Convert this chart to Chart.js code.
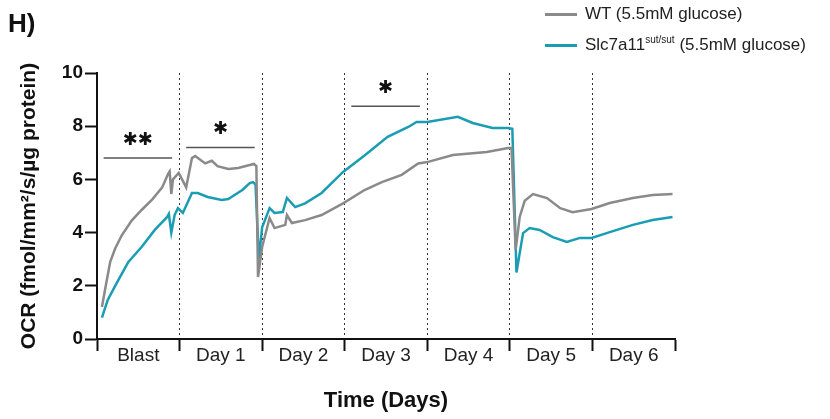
<!DOCTYPE html>
<html>
<head>
<meta charset="utf-8">
<script src="https://cdn.jsdelivr.net/npm/chart.js@4.4.1/dist/chart.umd.min.js"></script>
<style>
  body { margin: 0; background: #fff; }
  #wrap { position: relative; width: 830px; height: 419px; font-family: "Liberation Sans", Arial, sans-serif; }
  #panel { position: absolute; left: 8px; top: 8px; font-size: 26px; font-weight: bold; color: #111; }
  .leg { position: absolute; left: 545px; font-size: 17px; line-height: 22px; color: #222; white-space: nowrap; }
  .leg i { display: inline-block; width: 32px; height: 3px; vertical-align: middle; margin-right: 8px; }
  .leg sup { font-size: 10px; line-height: 0; }
</style>
</head>
<body>
<div id="wrap">
  <canvas id="ocr_canvas" width="830" height="419"></canvas>
  <div id="panel">H)</div>
  <div class="leg" style="top:3px"><i style="background:#8a8a8a"></i>WT (5.5mM glucose)</div>
  <div class="leg" style="top:34px"><i style="background:#1a9db3"></i>Slc7a11<sup>sut/sut</sup> (5.5mM glucose)</div>
</div>
<script>
// x = position in days (0 = start of Blast), y = OCR
const dayLabels = ['Blast', 'Day 1', 'Day 2', 'Day 3', 'Day 4', 'Day 5', 'Day 6'];
const yTicks = [0, 2, 4, 6, 8, 10];

const wtTime = [0.06, 0.10, 0.16, 0.22, 0.30, 0.42, 0.54, 0.67, 0.79, 0.86, 0.88, 0.90, 0.92, 0.99, 1.08, 1.15, 1.19, 1.31, 1.39, 1.46, 1.59, 1.71, 1.85, 1.90, 1.93,
  1.95, 2.00, 2.09, 2.15, 2.28, 2.30, 2.36, 2.52, 2.72, 2.98, 3.24, 3.45, 3.69, 3.89, 4.00, 4.31, 4.72, 4.98, 5.02,
  5.07, 5.12, 5.18, 5.28, 5.45, 5.61, 5.76, 5.99, 6.21, 6.49, 6.73, 6.97];
const wtOCR = [1.2, 1.9, 2.9, 3.4, 3.9, 4.45, 4.85, 5.25, 5.7, 6.2, 6.3, 5.45, 6.0, 6.24, 5.7, 6.8, 6.88, 6.6, 6.7, 6.5, 6.39, 6.43, 6.54, 6.58, 6.5,
  2.33, 3.46, 4.55, 4.17, 4.29, 4.66, 4.36, 4.47, 4.66, 5.1, 5.6, 5.9, 6.17, 6.6, 6.65, 6.92, 7.03, 7.18, 7.18,
  3.35, 4.6, 5.2, 5.45, 5.3, 4.92, 4.77, 4.89, 5.11, 5.3, 5.41, 5.45];

const sutTime = [0.06, 0.13, 0.22, 0.38, 0.54, 0.70, 0.85, 0.87, 0.90, 0.94, 0.98, 1.04, 1.15, 1.22, 1.34, 1.51, 1.59, 1.76, 1.85, 1.89, 1.92,
  1.96, 2.00, 2.09, 2.15, 2.25, 2.30, 2.40, 2.52, 2.72, 2.98, 3.24, 3.52, 3.77, 3.87, 4.00, 4.37, 4.55, 4.79, 4.98, 5.03,
  5.08, 5.16, 5.24, 5.36, 5.52, 5.69, 5.85, 5.99, 6.21, 6.49, 6.73, 6.97];
const sutOCR = [0.8, 1.47, 2.0, 2.9, 3.46, 4.1, 4.59, 4.7, 4.0, 4.66, 4.92, 4.74, 5.49, 5.49, 5.34, 5.23, 5.26, 5.6, 5.86, 5.9, 5.8,
  3.0, 4.2, 4.92, 4.74, 4.77, 5.3, 4.96, 5.1, 5.49, 6.28, 6.9, 7.6, 7.97, 8.16, 8.16, 8.35, 8.12, 7.93, 7.93, 7.9,
  2.5, 3.98, 4.17, 4.1, 3.83, 3.65, 3.8, 3.8, 4.02, 4.29, 4.47, 4.59];

// significance bars
const sigStart = [0.08, 1.08, 3.08];
const sigEnd = [0.91, 1.91, 3.91];
const sigLevel = [6.8, 7.2, 8.75];
const sigText = ['✱✱', '✱', '✱'];

const toPoints = (xs, ys) => xs.map((x, i) => ({ x: x, y: ys[i] }));

const sigPlugin = {
  id: 'sigBars',
  afterDatasetsDraw(chart) {
    const { ctx, scales: { x, y } } = chart;
    ctx.save();
    for (let i = 0; i < sigStart.length; i++) {
      const py = y.getPixelForValue(sigLevel[i]);
      ctx.strokeStyle = '#555';
      ctx.lineWidth = 1.5;
      ctx.beginPath();
      ctx.moveTo(x.getPixelForValue(sigStart[i]), py);
      ctx.lineTo(x.getPixelForValue(sigEnd[i]), py);
      ctx.stroke();
      ctx.fillStyle = '#111';
      ctx.font = '18px "DejaVu Sans"';
      ctx.textAlign = 'center';
      ctx.textBaseline = 'middle';
      ctx.fillText(sigText[i], x.getPixelForValue((sigStart[i] + sigEnd[i]) / 2), py - 18);
    }
    ctx.restore();
  }
};

const isWhole = v => Math.abs(v - Math.round(v)) < 1e-6;

new Chart(document.getElementById('ocr_canvas'), {
  type: 'line',
  data: {
    datasets: [{
      label: 'WT (5.5mM glucose)',
      data: toPoints(wtTime, wtOCR),
      borderColor: '#8a8a8a',
      borderWidth: 2.5,
      pointRadius: 0,
      tension: 0
    }, {
      label: 'Slc7a11 sut/sut (5.5mM glucose)',
      data: toPoints(sutTime, sutOCR),
      borderColor: '#1a9db3',
      borderWidth: 2.5,
      pointRadius: 0,
      tension: 0
    }]
  },
  options: {
    responsive: false,
    animation: false,
    layout: { padding: { left: 0, top: 73, right: 155, bottom: 0 } },
    plugins: { legend: { display: false }, tooltip: { enabled: false } },
    scales: {
      x: {
        type: 'linear',
        min: 0,
        max: 7,
        afterFit: s => { s.height = 80; },
        afterBuildTicks: s => { s.ticks = []; for (let v = 0; v <= 14; v++) s.ticks.push({ value: v / 2 }); },
        ticks: {
          autoSkip: false,
          maxRotation: 0,
          minRotation: 0,
          padding: -7,
          color: '#222',
          font: { family: '"Liberation Sans", Arial', size: 19 },
          callback: v => isWhole(v) ? '' : dayLabels[Math.floor(v)]
        },
        grid: {
          drawOnChartArea: true,
          color: c => (c.tick && isWhole(c.tick.value) && c.tick.value > 0 && c.tick.value < 7) ? '#333' : 'rgba(0,0,0,0)',
          lineWidth: 1,
          tickLength: 12,
          tickWidth: 2,
          tickColor: c => (c.tick && isWhole(c.tick.value)) ? '#111' : 'rgba(0,0,0,0)',
          tickBorderDash: []
        },
        border: { color: '#111', width: 2, dash: [2, 3] },
        title: {
          display: true,
          text: 'Time (Days)',
          color: '#111',
          font: { family: '"Liberation Sans", Arial', size: 22, weight: 'bold' },
          padding: { top: 0, bottom: 5 }
        }
      },
      y: {
        min: 0,
        max: 10,
        afterFit: s => { s.width = 97; },
        afterBuildTicks: s => { s.ticks = yTicks.map(v => ({ value: v })); },
        ticks: {
          color: '#111',
          padding: 2,
          font: { family: '"Liberation Sans", Arial', size: 19, weight: 'bold' }
        },
        grid: {
          drawOnChartArea: false,
          tickLength: 12,
          tickWidth: 2,
          tickColor: '#111'
        },
        border: { color: '#111', width: 2 },
        title: {
          display: true,
          text: 'OCR (fmol/mm²/s/µg protein)',
          color: '#111',
          font: { family: '"Liberation Sans", Arial', size: 21, weight: 'bold' },
          padding: { top: 17, bottom: 0 }
        }
      }
    }
  },
  plugins: [sigPlugin]
});
</script>
</body>
</html>
